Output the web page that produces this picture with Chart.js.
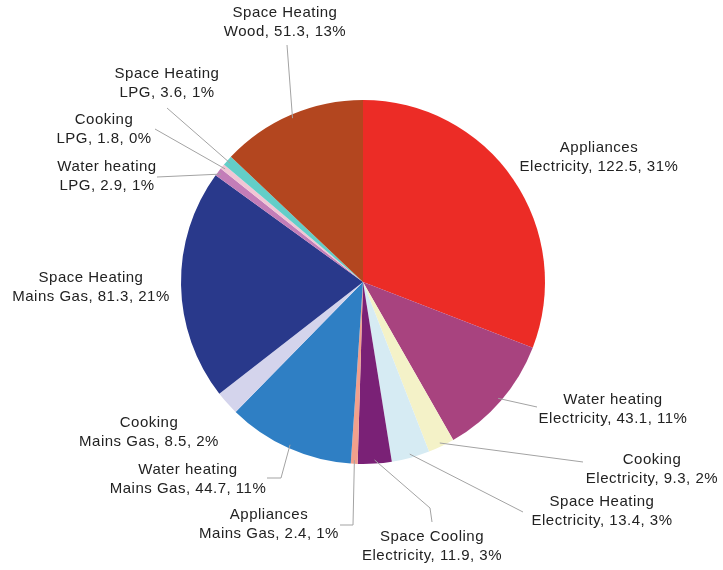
<!DOCTYPE html>
<html>
<head>
<meta charset="utf-8">
<script src="https://cdn.jsdelivr.net/npm/chart.js@4.4.0/dist/chart.umd.min.js"></script>
<style>
  body { margin: 0; background: #fff; }
  canvas { display: block; }
</style>
</head>
<body>
<canvas id="pie" width="723" height="570"></canvas>
<script>
// Slices, clockwise from 12 o'clock
const endUses = ['Appliances', 'Water heating', 'Cooking', 'Space Heating', 'Space Cooling',
  'Appliances', 'Water heating', 'Cooking', 'Space Heating',
  'Water heating', 'Cooking', 'Space Heating', 'Space Heating'];
const fuels = ['Electricity', 'Electricity', 'Electricity', 'Electricity', 'Electricity',
  'Mains Gas', 'Mains Gas', 'Mains Gas', 'Mains Gas',
  'LPG', 'LPG', 'LPG', 'Wood'];
const values = [122.5, 43.1, 9.3, 13.4, 11.9, 2.4, 44.7, 8.5, 81.3, 2.9, 1.8, 3.6, 51.3];
const percents = ['31%', '11%', '2%', '3%', '3%', '1%', '11%', '2%', '21%', '1%', '0%', '1%', '13%'];

const colors = ['#ec2c26', '#a8437f', '#f4f2c8', '#d6ebf3', '#7a2176', '#f2a08c', '#2f7fc4',
  '#d4d4ec', '#29398b', '#c37db8', '#f1c6d5', '#63cec8', '#b3461f'];

// label placement: centre of first text line, plus leader points (label side first)
const labelX = [599, 613, 652, 602, 432, 269, 188, 149, 91, 107, 104, 167, 285];
const labelY = [148, 400, 460, 502, 537, 515, 470, 423, 278, 167, 120, 74, 13];
const leaders = [
  [],
  [[537, 407]],
  [[583, 462]],
  [[523, 512]],
  [[432, 522], [430, 508]],
  [[340, 525], [353, 525]],
  [[267, 478], [281, 478]],
  [],
  [],
  [[157, 177]],
  [[155, 129]],
  [[167, 108]],
  [[287, 45]]
];

const labelPlugin = {
  id: 'outerLabels',
  afterDraw(chart) {
    const ctx = chart.ctx;
    const arcs = chart.getDatasetMeta(0).data;
    ctx.save();
    ctx.strokeStyle = '#a3a3a3';
    ctx.lineWidth = 1;
    arcs.forEach((arc, i) => {
      const p = arc.getProps(['x', 'y', 'startAngle', 'endAngle', 'outerRadius'], true);
      const mid = (p.startAngle + p.endAngle) / 2;
      const ax = p.x + Math.cos(mid) * p.outerRadius * 0.98;
      const ay = p.y + Math.sin(mid) * p.outerRadius * 0.98;
      const pts = leaders[i];
      if (pts.length) {
        ctx.beginPath();
        ctx.moveTo(pts[0][0], pts[0][1]);
        for (let k = 1; k < pts.length; k++) ctx.lineTo(pts[k][0], pts[k][1]);
        ctx.lineTo(ax, ay);
        ctx.stroke();
      }
    });
    ctx.fillStyle = '#222';
    ctx.font = '15px "Liberation Sans", Arial, sans-serif';
    ctx.letterSpacing = '0.5px';
    ctx.textAlign = 'center';
    ctx.textBaseline = 'middle';
    values.forEach((v, i) => {
      ctx.fillText(endUses[i], labelX[i], labelY[i]);
      ctx.fillText(fuels[i] + ', ' + v.toFixed(1) + ', ' + percents[i], labelX[i], labelY[i] + 19);
    });
    ctx.restore();
  }
};

new Chart(document.getElementById('pie'), {
  type: 'pie',
  data: {
    labels: endUses.map((e, i) => e + ' ' + fuels[i]),
    datasets: [{
      data: values,
      backgroundColor: colors,
      borderWidth: 0
    }]
  },
  options: {
    responsive: false,
    animation: false,
    layout: { padding: { left: 181, right: 178, top: 100, bottom: 106 } },
    plugins: {
      legend: { display: false },
      tooltip: { enabled: false }
    }
  },
  plugins: [labelPlugin]
});
</script>
</body>
</html>
